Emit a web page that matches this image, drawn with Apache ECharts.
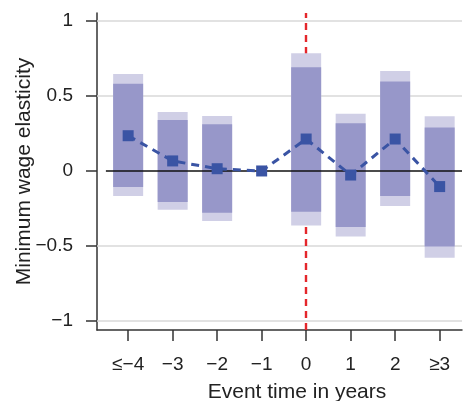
<!DOCTYPE html>
<html>
<head>
<meta charset="utf-8">
<script src="https://cdn.jsdelivr.net/npm/echarts@6/dist/echarts.min.js"></script>
<style>html,body{margin:0;padding:0;background:#fff}#c{width:463px;height:401px}</style>
</head>
<body>
<div id="c"></div>
<script>
// Event times (x positions) and their tick labels
const eventTimes = [-4, -3, -2, -1, 0, 1, 2, 3];
const xTickLabels = ['≤−4', '−3', '−2', '−1', '0', '1', '2', '≥3'];
const yTickValues = [-1, -0.5, 0, 0.5, 1];
const yTickLabels = ['−1', '−0.5', '0', '0.5', '1'];
// Point estimates
const estimates = [0.235, 0.067, 0.015, 0, 0.213, -0.027, 0.213, -0.104];
// Outer (light) interval
const outerLow  = [-0.167, -0.258, -0.333, null, -0.364, -0.436, -0.233, -0.578];
const outerHigh = [0.647, 0.393, 0.367, null, 0.784, 0.382, 0.667, 0.364];
// Inner (dark) interval
const innerLow  = [-0.107, -0.207, -0.278, null, -0.271, -0.373, -0.167, -0.504];
const innerHigh = [0.582, 0.340, 0.311, null, 0.691, 0.318, 0.596, 0.289];

const X_MIN = -4.7, X_MAX = 3.502, Y_MIN = -1.06, Y_MAX = 1.053;
const BAR_W = 0.674;
const FONT = '"Liberation Sans", Arial, Helvetica, sans-serif';

function rangeData(lo, hi) {
  const out = [];
  eventTimes.forEach((t, i) => { if (lo[i] !== null) out.push([t, lo[i], hi[i]]); });
  return out;
}
function rectRenderer(fill) {
  return function (params, api) {
    const x = api.value(0), lo = api.value(1), hi = api.value(2);
    const top = api.coord([x, hi]);
    const bot = api.coord([x, lo]);
    const w = api.size([BAR_W, 0])[0];
    return { type: 'rect', shape: { x: top[0] - w / 2, y: top[1], width: w, height: bot[1] - top[1] }, style: { fill: fill } };
  };
}

const chart = echarts.init(document.getElementById('c'), null, { renderer: 'canvas' });
chart.setOption({
  animation: false,
  grid: { left: 97, top: 13, right: 1, bottom: 71, containLabel: false, outerBoundsMode: 'none' },
  xAxis: {
    type: 'value', min: X_MIN, max: X_MAX,
    name: 'Event time in years', nameLocation: 'middle', nameGap: 52, nameMoveOverlap: false,
    nameTextStyle: { fontFamily: FONT, fontSize: 21, color: '#222', padding: [0, 0, 0, 35] },
    axisLine: { show: true, onZero: false, lineStyle: { color: '#333', width: 1.5 } },
    axisTick: { show: true, length: 11, lineStyle: { color: '#333', width: 1.5 }, customValues: eventTimes },
    axisLabel: { customValues: eventTimes, margin: 25, fontFamily: FONT, fontSize: 19, color: '#222',
      formatter: v => xTickLabels[eventTimes.indexOf(Math.round(v))] },
    splitLine: { show: false }
  },
  yAxis: {
    type: 'value', min: Y_MIN, max: Y_MAX,
    name: 'Minimum wage elasticity', nameLocation: 'middle', nameGap: 62, nameMoveOverlap: false,
    nameTextStyle: { fontFamily: FONT, fontSize: 21, color: '#222' },
    axisLine: { show: true, onZero: false, lineStyle: { color: '#333', width: 1.5 } },
    axisTick: { show: true, length: 11, lineStyle: { color: '#333', width: 1.5 }, customValues: yTickValues },
    axisLabel: { customValues: yTickValues, margin: 24, fontFamily: FONT, fontSize: 19, color: '#222',
      formatter: v => { const i = yTickValues.findIndex(t => Math.abs(t - v) < 1e-6); return i >= 0 ? yTickLabels[i] : ''; } },
    splitLine: { show: false }
  },
  series: [
    {
      type: 'line', data: [], z: 1, silent: true,
      markLine: {
        z: 1, symbol: 'none', silent: true, animation: false, label: { show: false },
        data: [
          ...yTickValues.filter(v => v !== 0).map(v => [{ coord: [X_MIN, v], lineStyle: { color: '#d8d8d8', width: 1.5, type: 'solid' } }, { coord: [X_MAX, v] }]),
          { xAxis: 0, lineStyle: { color: '#e4262b', width: 2.4, type: [7, 5] } }
        ]
      }
    },
    { type: 'custom', z: 2, silent: true, data: rangeData(outerLow, outerHigh), renderItem: rectRenderer('#d0cfe6'), encode: { x: 0, y: [1, 2] } },
    { type: 'custom', z: 3, silent: true, data: rangeData(innerLow, innerHigh), renderItem: rectRenderer('#9797c9'), encode: { x: 0, y: [1, 2] } },
    {
      type: 'line', data: [], z: 4, silent: true,
      markLine: {
        z: 4, symbol: 'none', silent: true, animation: false, label: { show: false },
        data: [[{ coord: [-4.5, 0], lineStyle: { color: '#111', width: 1.5, type: 'solid' } }, { coord: [X_MAX, 0] }]]
      }
    },
    {
      type: 'line', z: 5, silent: true,
      data: eventTimes.map((t, i) => [t, estimates[i]]),
      symbol: 'rect', symbolSize: 11,
      itemStyle: { color: '#3a54a4' },
      lineStyle: { color: '#3a54a4', width: 3, type: [8, 6] }
    }
  ]
});
</script>
</body>
</html>
